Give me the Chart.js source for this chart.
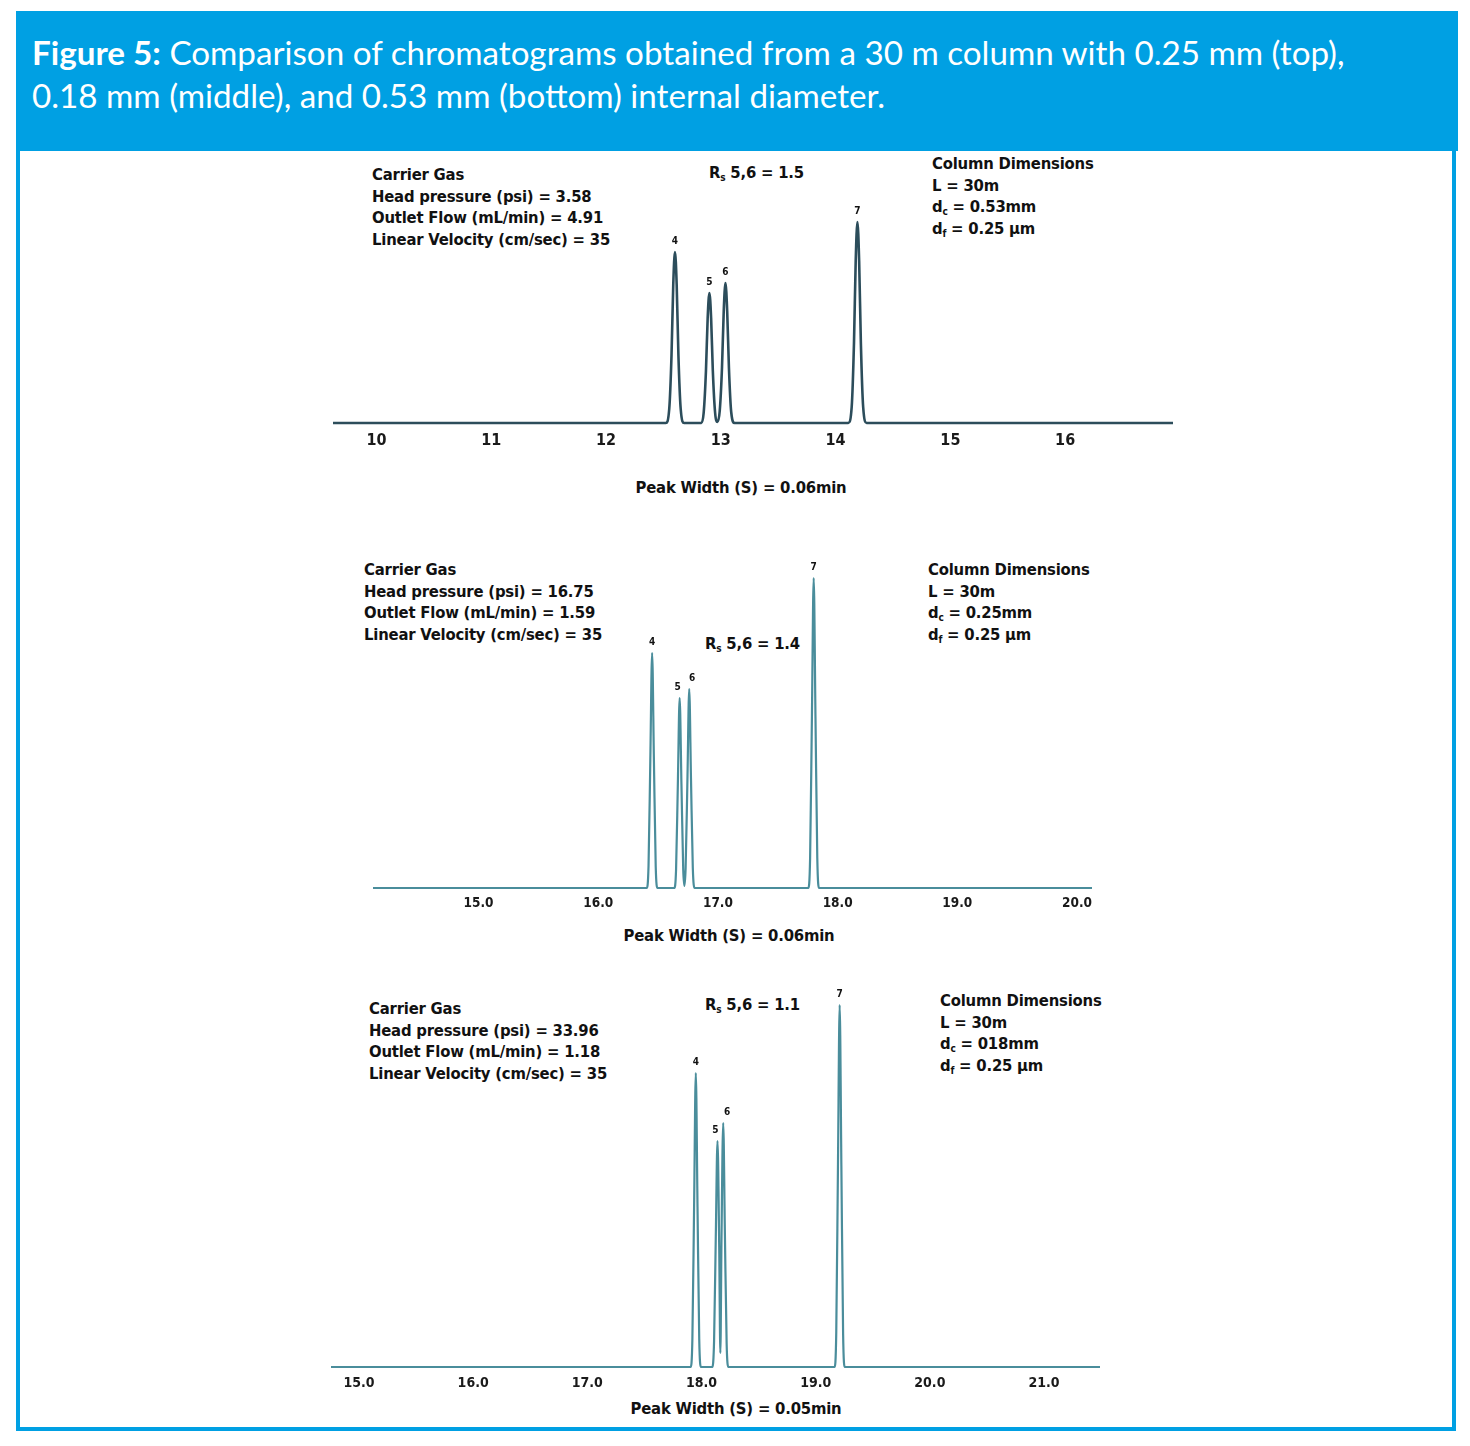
<!DOCTYPE html>
<html>
<head>
<meta charset="utf-8">
<script src="https://cdn.jsdelivr.net/npm/chart.js@4/dist/chart.umd.min.js"></script>
<style>
  html, body { margin:0; padding:0; background:#fff; }
  body { width:1470px; height:1446px; position:relative; overflow:hidden; }
  #frame { position:absolute; left:16px; top:11px; width:1440px; height:1420px;
           box-sizing:border-box; border:4px solid #00A0E3; border-top:none; }
  #header { position:absolute; left:16px; top:11px; width:1442px; height:140px; background:#00A0E3; }
  #title { position:absolute; left:32px; top:31px; color:#fff; font-family:Lato, "Open Sans", sans-serif;
           font-size:33.2px; line-height:43px; font-weight:400; white-space:nowrap; }
  #title b { font-weight:700; }
  .info { position:absolute; font-family:"Liberation Sans Narrow","DejaVu Sans Condensed","DejaVu Sans",sans-serif;
          font-stretch:condensed; font-weight:700; font-size:16.5px; color:#111; line-height:21.5px; white-space:nowrap; letter-spacing:-0.2px; }
  .info sub { font-size:10px; vertical-align:-3px; line-height:0; }
  .pw { position:absolute; font-family:"Liberation Sans Narrow","DejaVu Sans Condensed","DejaVu Sans",sans-serif;
        font-stretch:condensed; font-weight:700; font-size:16.5px; color:#111; white-space:nowrap; transform:translateX(-50%); letter-spacing:-0.2px; }
  .cw { position:absolute; }
</style>
</head>
<body>
<div id="frame"></div>
<div id="header"></div>
<div id="title"><b>Figure 5:</b> Comparison of chromatograms obtained from a 30 m column with 0.25 mm (top),<br>0.18 mm (middle), and 0.53 mm (bottom) internal diameter.</div>

<!-- top panel text -->
<div class="info" style="left:372px;top:164px;">Carrier Gas<br>Head pressure (psi) = 3.58<br>Outlet Flow (mL/min) = 4.91<br>Linear Velocity (cm/sec) = 35</div>
<div class="info" style="left:709px;top:162px;">R<sub>s</sub> 5,6 = 1.5</div>
<div class="info" style="left:932px;top:153px;">Column Dimensions<br>L = 30m<br>d<sub>c</sub> = 0.53mm<br>d<sub>f</sub> = 0.25 µm</div>
<div class="pw" style="left:741px;top:478px;">Peak Width (S) = 0.06min</div>

<!-- middle panel text -->
<div class="info" style="left:364px;top:559px;">Carrier Gas<br>Head pressure (psi) = 16.75<br>Outlet Flow (mL/min) = 1.59<br>Linear Velocity (cm/sec) = 35</div>
<div class="info" style="left:705px;top:633px;">R<sub>s</sub> 5,6 = 1.4</div>
<div class="info" style="left:928px;top:559px;">Column Dimensions<br>L = 30m<br>d<sub>c</sub> = 0.25mm<br>d<sub>f</sub> = 0.25 µm</div>
<div class="pw" style="left:729px;top:926px;">Peak Width (S) = 0.06min</div>

<!-- bottom panel text -->
<div class="info" style="left:369px;top:998px;">Carrier Gas<br>Head pressure (psi) = 33.96<br>Outlet Flow (mL/min) = 1.18<br>Linear Velocity (cm/sec) = 35</div>
<div class="info" style="left:705px;top:994px;">R<sub>s</sub> 5,6 = 1.1</div>
<div class="info" style="left:940px;top:990px;">Column Dimensions<br>L = 30m<br>d<sub>c</sub> = 018mm<br>d<sub>f</sub> = 0.25 µm</div>
<div class="pw" style="left:736px;top:1399px;">Peak Width (S) = 0.05min</div>

<div class="cw" id="w1"><canvas id="c1"></canvas></div>
<div class="cw" id="w2"><canvas id="c2"></canvas></div>
<div class="cw" id="w3"><canvas id="c3"></canvas></div>

<script>
// ---------- DATA ----------
const peakNames = ['4', '5', '6', '7'];

// Top: 0.53 mm column
const topTimes  = [9.62, 12.52, 12.55, 12.57, 12.585, 12.60, 12.615, 12.63, 12.65, 12.68,
                   12.83, 12.85, 12.87, 12.885, 12.90, 12.915, 12.93, 12.95, 12.97,
                   12.99, 13.01, 13.025, 13.04, 13.055, 13.07, 13.09, 13.12,
                   14.11, 14.14, 14.16, 14.175, 14.19, 14.205, 14.22, 14.24, 14.27, 16.94];
const topSignal = [0, 0, 14, 68, 138, 171, 138, 68, 14, 0,
                   0, 10, 52, 105, 130, 105, 52, 10, 1,
                   12, 56, 112, 140, 112, 56, 11, 0,
                   0, 16, 80, 162, 201, 162, 80, 16, 0, 0];
const topPeakTimes   = [12.60, 12.90, 13.04, 14.19];
const topPeakHeights = [171, 130, 140, 201];

// Middle: 0.25 mm column
const midTimes  = [14.118, 16.405, 16.42, 16.435, 16.45, 16.465, 16.48, 16.495,
                   16.635, 16.65, 16.665, 16.68, 16.695, 16.71, 16.72,
                   16.73, 16.745, 16.76, 16.775, 16.79, 16.805,
                   17.755, 17.77, 17.785, 17.80, 17.815, 17.83, 17.845, 20.125];
const midSignal = [0, 0, 22, 128, 235, 128, 22, 0,
                   0, 18, 104, 190, 104, 18, 2,
                   20, 108, 199, 108, 20, 0,
                   0, 30, 170, 310, 170, 30, 0, 0];
const midPeakTimes   = [16.45, 16.68, 16.76, 17.80];
const midPeakHeights = [235, 190, 199, 310];

// Bottom: 0.18 mm column
const botTimes  = [14.755, 17.905, 17.92, 17.935, 17.95, 17.965, 17.98, 17.995,
                   18.095, 18.11, 18.125, 18.14, 18.155, 18.165,
                   18.175, 18.19, 18.205, 18.22, 18.235,
                   19.165, 19.18, 19.195, 19.21, 19.225, 19.24, 19.255, 21.49];
const botSignal = [0, 0, 28, 160, 294, 160, 28, 0,
                   0, 26, 130, 226, 120, 14,
                   128, 244, 132, 24, 0,
                   0, 34, 200, 362, 200, 34, 0, 0];
const botPeakTimes   = [17.95, 18.14, 18.19, 19.21];
const botPeakHeights = [294, 226, 244, 362];

// ---------- CHARTS ----------
const tickFamily = '"Liberation Sans Narrow","DejaVu Sans Condensed","DejaVu Sans",sans-serif';

const peakLabelPlugin = {
  id: 'peakLabels',
  afterDatasetsDraw(chart, args, opts) {
    const ctx = chart.ctx, xs = chart.scales.x, ys = chart.scales.y;
    ctx.save();
    ctx.fillStyle = '#111';
    ctx.font = 'bold 10px "DejaVu Sans Condensed","DejaVu Sans",sans-serif';
    ctx.textAlign = 'center';
    ctx.textBaseline = 'bottom';
    opts.times.forEach((t, i) => {
      ctx.fillText(peakNames[i], xs.getPixelForValue(t) + (opts.dx ? opts.dx[i] : 0), ys.getPixelForValue(opts.heights[i]) - 6);
    });
    ctx.restore();
  }
};

function makeChart(cfg) {
  const AXH = 30;             // x-axis band height in px
  const areaH = cfg.areaH;    // chart area height in px
  const wrap = document.getElementById(cfg.wrap);
  wrap.style.left = cfg.x0 + 'px';
  wrap.style.width = (cfg.x1 - cfg.x0) + 'px';
  wrap.style.top = (cfg.baseline + 4 - areaH) + 'px';
  wrap.style.height = (areaH + AXH) + 'px';
  new Chart(document.getElementById(cfg.canvas), {
    type: 'line',
    data: {
      datasets: [{
        data: cfg.times.map((t, i) => ({ x: t, y: cfg.signal[i] })),
        borderColor: cfg.color,
        borderWidth: cfg.lw,
        pointRadius: 0,
        fill: false,
        cubicInterpolationMode: 'monotone',
        tension: 0.4
      }]
    },
    options: {
      responsive: true,
      maintainAspectRatio: false,
      animation: false,
      layout: { padding: 0 },
      plugins: {
        legend: { display: false },
        tooltip: { enabled: false },
        peakLabels: { times: cfg.peakTimes, heights: cfg.peakHeights, dx: cfg.dx }
      },
      scales: {
        x: {
          type: 'linear',
          min: cfg.xmin, max: cfg.xmax,
          grid: { display: false, drawTicks: false },
          border: { display: false },
          afterFit(s) { s.height = AXH; },
          ticks: {
            stepSize: 1,
            includeBounds: false,
            autoSkip: false,
            maxRotation: 0,
            padding: cfg.tickPad,
            color: '#1a1a1a',
            font: { family: tickFamily, size: cfg.tickSize, weight: 'bold' },
            callback: v => cfg.decimals ? Number(v).toFixed(1) : String(Math.round(v))
          }
        },
        y: { display: false, min: -4, max: areaH - 4 }
      }
    },
    plugins: [peakLabelPlugin]
  });
}

makeChart({ wrap:'w1', canvas:'c1', x0:333, x1:1173, baseline:423, areaH:240, xmin:9.62, xmax:16.94,
            times:topTimes, signal:topSignal, peakTimes:topPeakTimes, peakHeights:topPeakHeights,
            color:'#2c4d5b', lw:2.6, tickPad:4, tickSize:16, decimals:false });
makeChart({ wrap:'w2', canvas:'c2', x0:373, x1:1095, baseline:888, areaH:340, xmin:14.118, xmax:20.125,
            times:midTimes, signal:midSignal, peakTimes:midPeakTimes, peakHeights:midPeakHeights,
            color:'#4a8d9b', lw:2.2, tickPad:3, tickSize:13.5, decimals:true, dx:[0,-2,3,0] });
makeChart({ wrap:'w3', canvas:'c3', x0:331, x1:1100, baseline:1367, areaH:390, xmin:14.755, xmax:21.49,
            times:botTimes, signal:botSignal, peakTimes:botPeakTimes, peakHeights:botPeakHeights,
            color:'#4a8d9b', lw:2.2, tickPad:4, tickSize:14, decimals:true, dx:[0,-2,4,0] });
</script>
</body>
</html>
